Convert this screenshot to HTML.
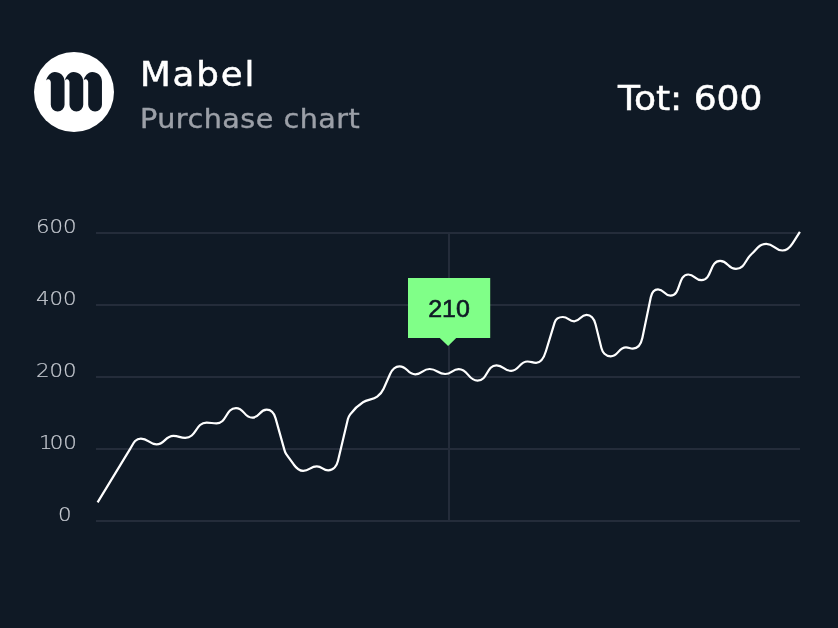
<!DOCTYPE html>
<html lang="en">
<head>
<meta charset="utf-8">
<title>Mabel – Purchase chart</title>
<style>
html,body{margin:0;padding:0;}
body{width:838px;height:628px;background:#0f1925;overflow:hidden;position:relative;font-family:"DejaVu Sans","Liberation Sans",sans-serif;}
.abs{position:absolute;white-space:nowrap;line-height:1;}
#name{left:140px;top:58px;font-size:33px;color:#fff;-webkit-text-stroke:0.5px #fff;letter-spacing:1.7px;transform:scaleX(1.08);transform-origin:0 0;}
#sub{left:140px;top:105.6px;font-size:26px;color:#9ca0a8;-webkit-text-stroke:0.4px #9ca0a8;letter-spacing:0.45px;transform:scaleX(1.10);transform-origin:0 0;}
#tot{left:617.5px;top:81.8px;font-size:33px;color:#fff;letter-spacing:0px;-webkit-text-stroke:0.5px #fff;transform:scaleX(1.092);transform-origin:0 0;}
.yl{font-size:19px;font-weight:200;color:#c6cad1;-webkit-text-stroke:0.2px #c6cad1;letter-spacing:0;transform:scaleX(1.12);transform-origin:0 0;}
#tipt{left:407.5px;top:297.1px;width:82px;transform:scaleX(1.04);text-align:center;font-size:24px;color:#0f1925;font-family:"Liberation Sans",sans-serif;-webkit-text-stroke:0.6px #0f1925;}
svg{position:absolute;left:0;top:0;}
</style>
</head>
<body>
<svg width="838" height="628" viewBox="0 0 838 628">
  <circle cx="74" cy="92" r="40" fill="#ffffff"/>
  <g fill="#0f1925">
    <path d="M46.2,80.4 C47,76.8 50.4,72 54.8,72 C60,72 64.55,75.6 64.55,81.6 V104.7 A6.87,6.87 0 0 1 50.8,104.7 V82.6 C50.8,80.6 49.6,79.6 48.6,79.3 C47.8,79.2 46.8,79.8 46.2,80.4 Z"/>
    <path transform="translate(18.7,0)" d="M46.2,80.4 C47,76.8 50.4,72 54.8,72 C60,72 64.55,75.6 64.55,81.6 V104.7 A6.87,6.87 0 0 1 50.8,104.7 V82.6 C50.8,80.6 49.6,79.6 48.6,79.3 C47.8,79.2 46.8,79.8 46.2,80.4 Z"/>
    <path transform="translate(37.4,0)" d="M46.2,80.4 C47,76.8 50.4,72 54.8,72 C60,72 64.55,75.6 64.55,81.6 V104.7 A6.87,6.87 0 0 1 50.8,104.7 V82.6 C50.8,80.6 49.6,79.6 48.6,79.3 C47.8,79.2 46.8,79.8 46.2,80.4 Z"/>
  </g>
  <g stroke="#242c3a" stroke-width="2" fill="none">
    <line x1="96" y1="233" x2="800" y2="233"/>
    <line x1="96" y1="305" x2="800" y2="305"/>
    <line x1="96" y1="377" x2="800" y2="377"/>
    <line x1="96" y1="449" x2="800" y2="449"/>
    <line x1="96" y1="521" x2="800" y2="521"/>
    <line x1="449" y1="234" x2="449" y2="520"/>
  </g>
  <path d="M97.60,502.40 L130.30,448.60 C132.87,444.37 134.89,438.60 140.90,438.60 C148.49,438.60 148.91,444.30 156.50,444.30 C164.95,444.30 164.95,435.90 173.40,435.90 C178.99,435.90 179.61,437.90 185.20,437.90 C196.52,437.90 195.28,422.65 206.60,422.65 C211.26,422.65 211.84,423.30 216.50,423.30 C227.02,423.30 225.48,408.10 236.00,408.10 C244.34,408.10 243.96,417.70 252.30,417.70 C259.60,417.70 259.40,409.70 266.70,409.70 C271.80,409.70 274.46,414.32 275.60,418.40 L284.40,449.90 C284.85,451.51 285.42,453.04 286.40,454.40 L293.50,464.20 C295.84,467.42 298.04,470.90 303.10,470.90 C309.73,470.90 310.17,466.30 316.80,466.30 C322.33,466.30 322.67,470.30 328.20,470.30 C333.80,470.30 336.93,465.32 338.00,460.80 L347.90,419.00 C348.31,417.27 349.08,415.82 350.20,414.30 C353.95,409.22 357.67,405.69 363.00,402.30 C367.65,399.34 372.76,399.86 377.20,396.60 C380.13,394.45 382.22,391.94 383.60,388.80 L390.00,374.20 C391.69,370.35 394.30,366.30 399.50,366.30 C407.43,366.30 407.37,374.40 415.30,374.40 C422.28,374.40 422.62,369.00 429.60,369.00 C437.13,369.00 437.67,374.00 445.20,374.00 C451.77,374.00 452.13,369.10 458.70,369.10 C468.42,369.10 467.88,380.60 477.60,380.60 C487.88,380.60 486.22,365.30 496.50,365.30 C503.62,365.30 503.98,370.80 511.10,370.80 C519.44,370.80 519.16,361.50 527.50,361.50 C531.57,361.50 532.03,362.80 536.10,362.80 C542.10,362.80 544.40,356.14 545.90,351.20 L554.60,322.60 C555.58,319.37 558.50,317.00 562.80,317.00 C568.36,317.00 568.64,321.30 574.20,321.30 C580.39,321.30 580.31,314.90 586.50,314.90 C591.86,314.90 594.51,320.21 595.60,324.60 L601.40,348.00 C602.42,352.11 605.51,356.30 610.70,356.30 C618.51,356.30 618.19,347.40 626.00,347.40 C629.22,347.40 629.58,348.60 632.80,348.60 C638.57,348.60 641.40,342.61 642.40,337.80 L650.80,297.20 C651.54,293.64 653.71,289.30 658.00,289.30 C664.27,289.30 664.23,295.70 670.50,295.70 C681.38,295.70 677.32,274.50 688.20,274.50 C694.74,274.50 694.96,280.10 701.50,280.10 C712.34,280.10 709.26,260.90 720.10,260.90 C728.06,260.90 728.04,268.90 736.00,268.90 C744.88,268.90 745.57,258.90 751.60,254.00 C756.58,249.95 758.58,243.90 766.30,243.90 C774.20,243.90 774.50,250.50 782.40,250.50 C787.78,250.50 790.31,246.87 792.60,243.30 L799.90,231.90" fill="none" stroke="#ffffff" stroke-width="2.2" stroke-linejoin="round" stroke-linecap="butt"/>
  <path d="M408,278 H490.2 V338 H456.2 L448.1,346.1 L439.8,338 H408 Z" fill="#80ff88"/>
</svg>
<div class="abs" id="name">Mabel</div>
<div class="abs" id="sub">Purchase chart</div>
<div class="abs" id="tot">Tot: 600</div>
<div class="abs yl" style="left:36px;top:217.3px;">600</div>
<div class="abs yl" style="left:36px;top:289.3px;">400</div>
<div class="abs yl" style="left:36px;top:361.3px;">200</div>
<div class="abs yl" style="left:39.3px;top:433.3px;"><span style="letter-spacing:-2.6px">1</span>00</div>
<div class="abs yl" style="left:58.3px;top:505.3px;">0</div>
<div class="abs" id="tipt">210</div>
</body>
</html>
